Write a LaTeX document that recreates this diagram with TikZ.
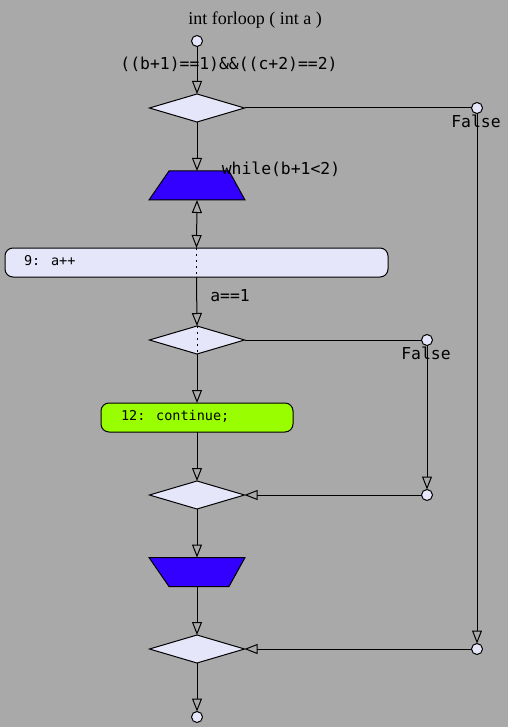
\documentclass[tikz,border=0pt]{standalone}
\usepackage{fontspec}
\setmainfont{Liberation Serif}
\newfontfamily\monofont{DejaVu Sans Mono}
\usetikzlibrary{shapes.geometric,arrows.meta}
\definecolor{bggray}{HTML}{A9A9A9}
\definecolor{lav}{HTML}{E6E6FA}
\definecolor{trapblue}{HTML}{3300FF}
\definecolor{cgreen}{HTML}{99FF00}
\tikzset{
  decision/.style={diamond,draw,fill=lav,line width=1pt,inner sep=0pt,outer sep=0pt,minimum width=95pt,minimum height=28pt,aspect=3.4},
  loopbox/.style={rectangle,inner sep=0pt,outer sep=0pt,minimum width=96pt,minimum height=29pt},
  trapfill/.style={fill=trapblue,draw,line width=1pt,line join=miter},
  term/.style={circle,draw,fill=lav,line width=1pt,inner sep=0pt,outer sep=0pt,minimum size=11pt},
  stmt/.style={rectangle,rounded corners=8pt,draw,line width=1pt,inner sep=0pt,outer sep=0pt,minimum height=29pt,font=\monofont\fontsize{13.5}{15}\selectfont},
  flow/.style={line width=1pt,-{Triangle[open,length=13pt,width=10pt]}},
  plain/.style={line width=1pt},
  lbl/.style={font=\monofont\fontsize{16.4}{18}\selectfont,inner sep=0pt},
  dots/.style={line width=1pt,dash pattern=on 2pt off 4pt}
}
\begin{document}
\begin{tikzpicture}[x=1pt,y=-1pt]
\useasboundingbox[fill=bggray] (0,0) rectangle (508,727);
\node[font=\fontsize{18}{20}\selectfont,inner sep=0pt] (title) at (255,20) {int forloop ( int a )};
\node[term] (start) at (197,41) {};
\node[decision] (d1) at (197,108) {};
\node[term] (c1) at (477,108) {};
\node[term] (c2) at (477,649) {};
\node[loopbox] (t1) at (197,185.5) {};
\draw[trapfill] (169,171) -- (229,171) -- (245,200) -- (149,200) -- cycle;
\node[stmt,fill=lav,minimum width=383pt] (b1) at (196.5,262.5) {};
\node[stmt,anchor=west,draw=none] (b1t) at (24,262.5) {\strut 9: a++};
\node[decision] (d2) at (197,340) {};
\node[term] (c3) at (427,340) {};
\node[term] (c4) at (427,495) {};
\node[stmt,fill=cgreen,minimum width=192pt] (g1) at (197,417.5) {};
\node[stmt,anchor=west,draw=none] (g1t) at (121,417.5) {\strut 12: continue;};
\node[decision] (d3) at (197,495) {};
\node[loopbox] (t2) at (197,572) {};
\draw[trapfill] (149,557.5) -- (245,557.5) -- (229,586.5) -- (169,586.5) -- cycle;
\node[decision] (d4) at (197,649) {};
\node[term] (end) at (197,717) {};
% labels
\node[lbl] (l1) at (229,64) {((b+1)==1)\&\&((c+2)==2)};
\node[lbl] (l2) at (281,169) {while(b+1<2)};
\node[lbl] (l3) at (230,296) {a==1};
\node[lbl] (f1) at (476,121) {False};
\node[lbl] (f2) at (426,353) {False};
% connectors
\draw[flow] (start) -- (d1.north);
\draw[plain] (d1.east) -- (c1.west);
\draw[flow] (c1.south) -- (c2.north);
\draw[flow] (c2.west) -- (d4.east);
\draw[flow] (d1.south) -- (t1.north);
\draw[line width=1pt,{Triangle[open,length=13pt,width=10pt]}-{Triangle[open,length=13pt,width=10pt]}] (t1.south) -- (b1.north);
\draw[dots] (b1.north) -- (b1.south);
\draw[flow] (b1.south) -- (d2.north);
\draw[dots] (d2.north) -- (d2.south);
\draw[plain] (d2.east) -- (c3.west);
\draw[flow] (c3.south) -- (c4.north);
\draw[flow] (c4.west) -- (d3.east);
\draw[flow] (d2.south) -- (g1.north);
\draw[flow] (g1.south) -- (d3.north);
\draw[flow] (d3.south) -- (t2.north);
\draw[flow] (t2.south) -- (d4.north);
\draw[flow] (d4.south) -- (end.north);
\end{tikzpicture}
\end{document}
